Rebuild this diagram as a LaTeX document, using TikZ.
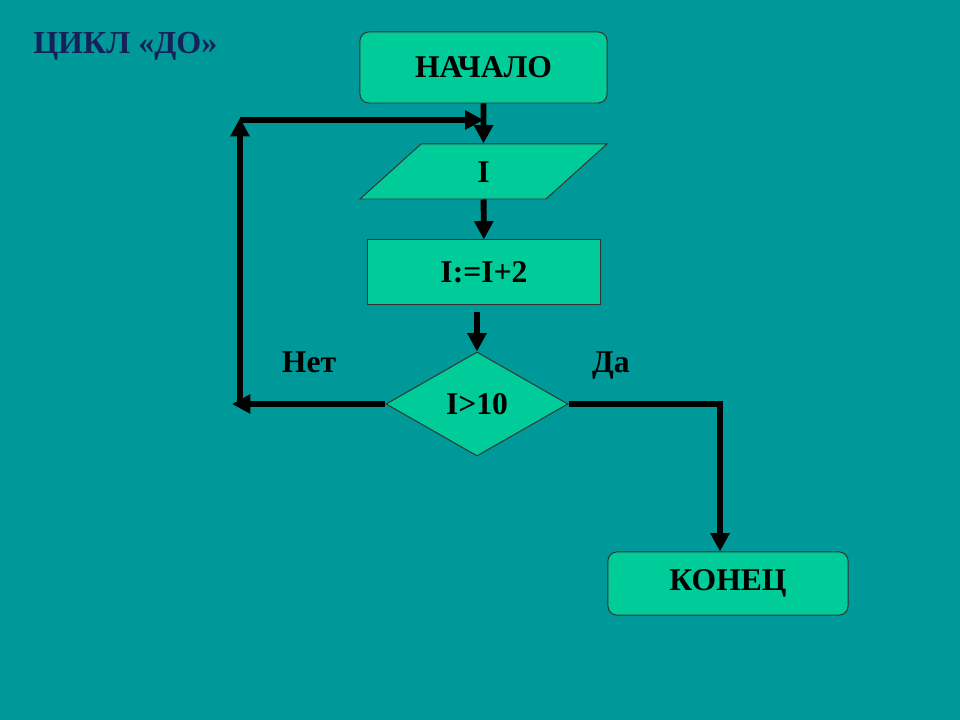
\documentclass[tikz,border=0pt]{standalone}
\usepackage{fontspec}
\setmainfont{Liberation Serif}
\usetikzlibrary{arrows.meta,positioning,shapes.geometric}
\definecolor{sea}{HTML}{009999}
\definecolor{mint}{HTML}{00CC99}
\definecolor{ink}{HTML}{14225A}
\tikzset{
  >={Triangle[length=13pt,width=13pt]},
  % блоки
  blk/.style={draw=black!80,fill=mint,line width=0.7pt,inner sep=0pt,
              font=\fontsize{22.5}{26}\selectfont\bfseries},
  term/.style={blk,rectangle,rounded corners=0.22cm},
  io/.style={blk,trapezium,trapezium left angle=42,trapezium right angle=138,
             trapezium stretches body=true,text height=0.53cm,text depth=0pt,
             inner ysep=0.4225cm},
  proc/.style={blk,rectangle},
  dec/.style={blk,diamond},
  % линии
  flow/.style={->,draw=black,line width=4.2pt},
  lbl/.style={font=\fontsize{22.5}{26}\selectfont\bfseries,inner sep=0pt},
}
\begin{document}
\begin{tikzpicture}[x=0.025cm,y=-0.025cm]
\useasboundingbox (0,0) rectangle (960,720);
  \fill[sea] (0,0) rectangle (960,720);
  \node[lbl,text=ink,anchor=base west,font=\fontsize{22.8}{26}\selectfont\bfseries]
    (title) at (33,54) {ЦИКЛ «ДО»};
  \node[term,minimum width=6.175cm,minimum height=1.775cm] (begin) at (483.5,67.5) {НАЧАЛО};
  \node[io,minimum width=6.175cm,minimum height=1.375cm] (inp) at (483.5,171.5) {I};
  \node[proc,minimum width=5.8cm,minimum height=1.6cm] (calc) at (484,272) {I:=I+2};
  \node[dec,minimum width=4.55cm,minimum height=2.6cm] (cond) at (477,404) {I>10};
  \node[term,minimum width=6cm,minimum height=1.575cm] (end) at (728,583.5) {КОНЕЦ};
  \node[lbl,anchor=base] (no) at (309,373) {Нет};
  \node[lbl,anchor=base] (yes) at (611,373) {Да};
  \coordinate (nl) at (232,407);
  \coordinate (nb) at (240,404);
  \coordinate (nt) at (240,118);
  \coordinate (nr) at (240,120);
  \draw[flow] (begin) -- (inp);
  \draw[flow] (inp) -- (calc);
  \draw[flow,shorten <=8*0.025cm] (cond.north |- calc.south) -- (cond.north);
  \draw[flow] (cond.west) -- (cond.west -| nl);
  \draw[flow] (nb) -- (nt);
  \draw[flow] (nr) -- (nr -| begin);
  \draw[flow] (cond.east) -| ([xshift=-0.2cm]end.north);
\end{tikzpicture}
\end{document}
